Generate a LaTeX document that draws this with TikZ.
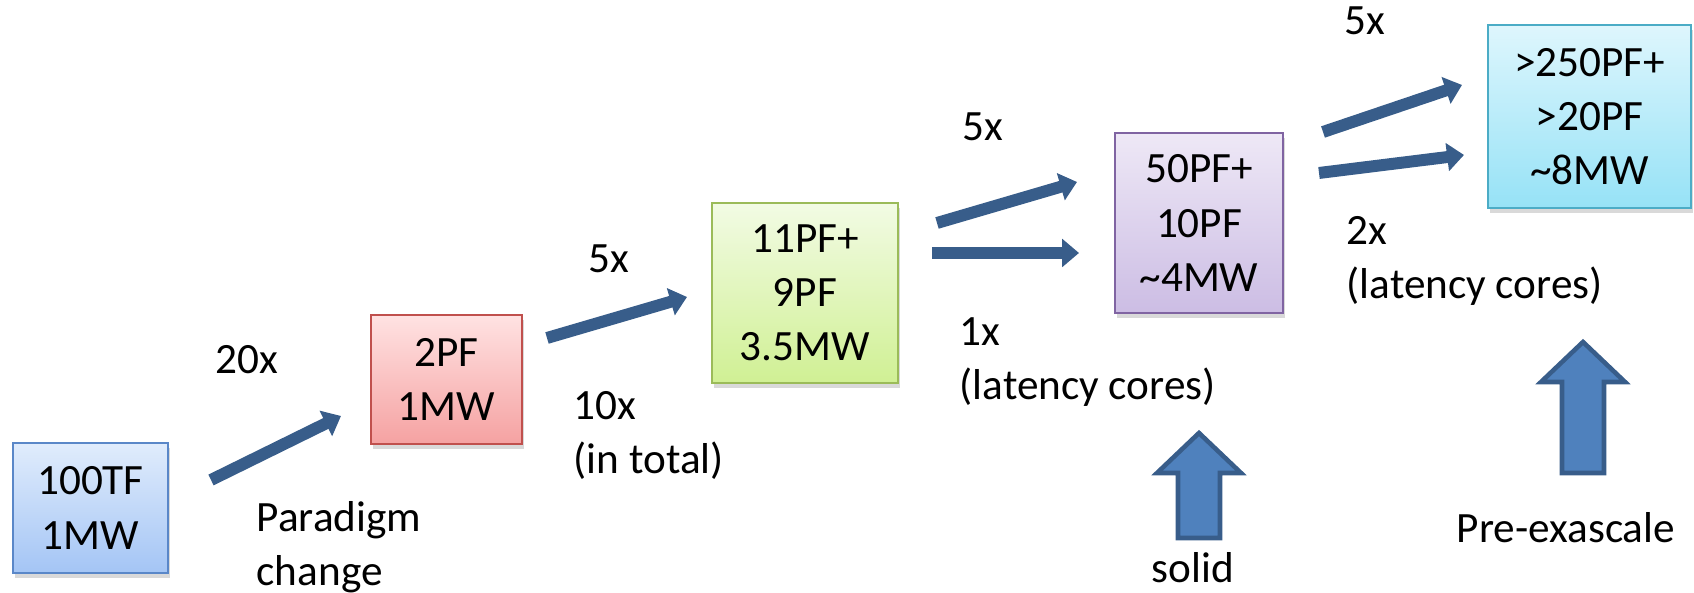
\documentclass[tikz,border=0pt]{standalone}
\usepackage{fontspec}
\setmainfont{Carlito}
\usetikzlibrary{arrows.meta,shadows}

\definecolor{arrowblue}{RGB}{56,93,138}
\definecolor{blockfill}{RGB}{79,129,189}
\definecolor{blockedge}{RGB}{56,93,138}

\tikzset{
  box/.style={draw, line width=0.7pt, align=center, inner sep=0pt,
    drop shadow={opacity=0.3, shadow xshift=0.7pt, shadow yshift=-1.3pt}},
  flow/.style={draw=arrowblue, line width=3.4pt, -{Triangle[length=4.8pt,width=7.8pt]}},
  lbl/.style={inner sep=0pt},
  upblock/.style={fill=blockfill, draw=blockedge, line width=1.3pt, line join=miter}
}

\begin{document}
\begin{tikzpicture}[every node/.style={font=\fontsize{12.3}{15.4}\selectfont}]
\useasboundingbox (0,0) rectangle (16.94,5.93);

% systems
\node[box, draw={rgb,255:red,90;green,135;blue,200}, top color={rgb,255:red,224;green,236;blue,252},
  bottom color={rgb,255:red,164;green,197;blue,245}, minimum width=1.55cm, minimum height=1.30cm]
  (tf) at (0.905,0.85) {100TF\\1MW};
\node[box, draw={rgb,255:red,192;green,80;blue,77}, top color={rgb,255:red,255;green,226;blue,226},
  bottom color={rgb,255:red,245;green,162;blue,162}, minimum width=1.51cm, minimum height=1.29cm]
  (pf2) at (4.465,2.135) {2PF\\1MW};
\node[box, draw={rgb,255:red,155;green,187;blue,89}, top color={rgb,255:red,242;green,251;blue,228},
  bottom color={rgb,255:red,208;green,240;blue,148}, minimum width=1.86cm, minimum height=1.80cm]
  (pf11) at (8.05,3.00) {11PF+\\9PF\\3.5MW};
\node[box, draw={rgb,255:red,128;green,100;blue,162}, top color={rgb,255:red,238;green,232;blue,246},
  bottom color={rgb,255:red,204;green,189;blue,228}, minimum width=1.68cm, minimum height=1.80cm]
  (pf50) at (11.99,3.70) {50PF+\\10PF\\\textasciitilde4MW};
\node[box, draw={rgb,255:red,75;green,172;blue,198}, top color={rgb,255:red,222;green,246;blue,253},
  bottom color={rgb,255:red,150;green,226;blue,246}, minimum width=2.03cm, minimum height=1.83cm]
  (pf250) at (15.895,4.765) {>250PF+\\>20PF\\\textasciitilde8MW};

% arrow ends
\coordinate (a1s) at (2.11,1.13);
\coordinate (a1e) at (3.41,1.77);
\coordinate (a2s) at (5.47,2.55);
\coordinate (a2e) at (6.87,2.96);
\coordinate (a3s) at (9.37,3.70);
\coordinate (a3e) at (10.77,4.11);
\coordinate (a4s) at (9.32,3.40);
\coordinate (a4e) at (10.79,3.40);
\coordinate (a5s) at (13.23,4.61);
\coordinate (a5e) at (14.62,5.08);
\coordinate (a6s) at (13.19,4.20);
\coordinate (a6e) at (14.64,4.38);

\draw[flow] (a1s) -- (a1e);
\draw[flow] (a2s) -- (a2e);
\draw[flow] (a3s) -- (a3e);
\draw[flow] (a4s) -- (a4e);
\draw[flow] (a5s) -- (a5e);
\draw[flow] (a6s) -- (a6e);

% labels
\node[lbl, anchor=base] (x20) at (2.47,2.19) {20x};
\node[lbl, anchor=north west, align=left] (para) at (2.56,0.92) {Paradigm\\change};
\node[lbl, anchor=base] (x5a) at (6.09,3.20) {5x};
\node[lbl, anchor=north west, align=left] (x10) at (5.73,2.02) {10x\\(in total)};
\node[lbl, anchor=base] (x5b) at (9.83,4.52) {5x};
\node[lbl, anchor=north west, align=left] (x1) at (9.59,2.76) {1x\\(latency cores)};
\node[lbl, anchor=base] (x5c) at (13.65,5.58) {5x};
\node[lbl, anchor=north west, align=left] (x2) at (13.46,3.77) {2x\\(latency cores)};
\node[lbl, anchor=base] (solid) at (11.93,0.10) {solid};
\node[lbl, anchor=base] (preexa) at (15.66,0.50) {Pre-exascale};

% block arrows
\draw[upblock] (11.78,0.55) -- (11.78,1.20) -- (11.57,1.20) -- (11.99,1.60)
  -- (12.41,1.20) -- (12.20,1.20) -- (12.20,0.55) -- cycle;
\draw[upblock] (15.62,1.20) -- (15.62,2.11) -- (15.41,2.11) -- (15.83,2.51)
  -- (16.25,2.11) -- (16.04,2.11) -- (16.04,1.20) -- cycle;
\end{tikzpicture}
\end{document}
